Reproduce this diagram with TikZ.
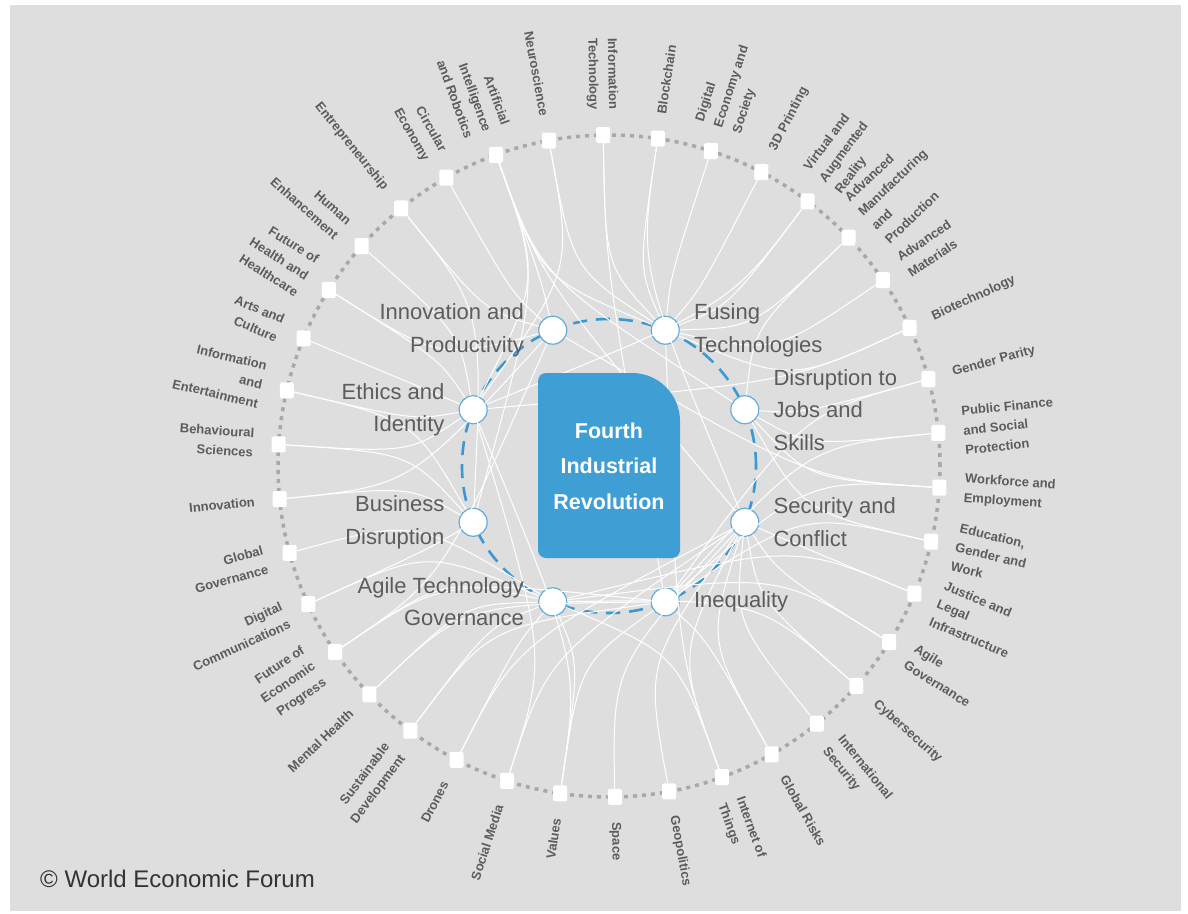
\documentclass[tikz,border=0pt]{standalone}
\usepackage{fontspec}
\setmainfont{Liberation Sans}
\usetikzlibrary{positioning}

\definecolor{bggrey}{HTML}{DEDEDE}
\definecolor{wefblue}{HTML}{3F9FD5}
\definecolor{ringblue}{HTML}{3A98D2}
\definecolor{lblgrey}{HTML}{5C5C5C}
\definecolor{dotgrey}{HTML}{A8A8A8}

\tikzset{
  topic/.style={fill=white, inner sep=0pt, minimum width=14pt, minimum height=16pt, rounded corners=1.5pt},
  topiclbl/.style={text=lblgrey, font=\bfseries\fontsize{13}{19.5}\selectfont, inner sep=0pt},
  issue/.style={circle, fill=white, draw=ringblue!80, line width=1.2pt, minimum size=28pt, inner sep=0pt},
  issuelbl/.style={text=lblgrey, font=\fontsize{22}{32.5}\selectfont, inner sep=0pt},
  link/.style={white, line width=1pt},
}

\begin{document}
\begin{tikzpicture}[x=1pt,y=1pt]
  \useasboundingbox (-609,-447) rectangle (579,466);
  \fill[white] (-609,-447) rectangle (579,466);
  \fill[bggrey] (-599,-445) rectangle (572,461);

  % rings
  \draw[dotgrey, line width=3.5pt, dash pattern=on 4pt off 5pt] (0,0) circle (331pt);
  \draw[ringblue, line width=2.6pt, dash pattern=on 14pt off 9pt] (0,0) circle (147pt);

  % topics round the ring
  \foreach \k in {1,...,38} {
    \pgfmathsetmacro\ang{91-(\k-1)*360/38}
    \node[topic] (o\k) at (\ang:331) {};
  }

  \foreach \k/\txt in {2/{Blockchain}, 3/{Digital\\Economy and\\Society}, 4/{3D Printing},
      5/{Virtual and\\Augmented\\Reality}, 6/{Advanced\\Manufacturing\\and\\Production},
      7/{Advanced\\Materials}, 8/{Biotechnology}, 9/{Gender Parity},
      10/{Public Finance\\and Social\\Protection}, 11/{Workforce and\\Employment},
      12/{Education,\\Gender and\\Work}, 13/{Justice and\\Legal\\Infrastructure},
      14/{Agile\\Governance}, 15/{Cybersecurity}, 16/{International\\Security},
      17/{Global Risks}, 18/{Internet of\\Things}, 19/{Geopolitics}, 20/{Space}} {
    \pgfmathsetmacro\ang{91-(\k-1)*360/38}
    \node[topiclbl, anchor=west, align=left, rotate=\ang] (l\k) at (\ang:356) {\txt};
  }

  \foreach \k/\txt in {21/{Values}, 22/{Social Media}, 23/{Drones},
      24/{Sustainable\\Development}, 25/{Mental Health}, 26/{Future of\\Economic\\Progress},
      27/{Digital\\Communications}, 28/{Global\\Governance}, 29/{Innovation},
      30/{Behavioural\\Sciences}, 31/{Information\\and\\Entertainment}, 32/{Arts and\\Culture},
      33/{Future of\\Health and\\Healthcare}, 34/{Human\\Enhancement}, 35/{Entrepreneurship},
      36/{Circular\\Economy}, 37/{Artificial\\Intelligence\\and Robotics}, 38/{Neuroscience},
      1/{Information\\Technology}} {
    \pgfmathsetmacro\ang{91-(\k-1)*360/38}
    \pgfmathsetmacro\rot{\ang-180}
    \node[topiclbl, anchor=east, align=right, rotate=\rot] (l\k) at (\ang:356) {\txt};
  }

  % key issues
  \node[issue] (ip) at (112.5:147) {};
  \node[issue] (ft) at (67.5:147) {};
  \node[issue] (dj) at (22.5:147) {};
  \node[issue] (sc) at (-22.5:147) {};
  \node[issue] (iq) at (-67.5:147) {};
  \node[issue] (at) at (-112.5:147) {};
  \node[issue] (bd) at (-157.5:147) {};
  \node[issue] (ei) at (157.5:147) {};

  % links
  \foreach \k/\t in {1/ft, 1/iq, 2/ft, 2/sc, 3/ft, 4/ft, 5/ft, 5/ei, 6/ft, 6/dj, 7/ft,
      8/ft, 8/ei, 9/dj, 9/iq, 10/dj, 10/iq, 11/dj, 11/iq, 11/ip, 12/dj, 12/iq,
      13/sc, 13/at, 14/sc, 14/at, 15/sc, 15/at, 16/sc, 17/sc, 17/iq, 18/sc, 18/at, 18/ft,
      19/sc, 20/sc, 21/at, 21/iq, 21/ei, 22/sc, 22/ei, 23/sc, 23/at, 24/iq, 24/at,
      25/iq, 25/at, 26/at, 26/iq, 26/ip, 27/at, 27/bd, 28/at, 29/ip, 29/bd,
      30/ei, 30/bd, 31/ei, 31/bd, 32/ei, 33/ei, 33/ip, 34/ei, 35/ip, 35/bd, 36/ip,
      37/ft, 37/ip, 37/dj, 37/bd, 37/sc, 37/ei, 38/ft, 38/ei} {
    \pgfmathsetmacro\ang{91-(\k-1)*360/38}
    \draw[link] (o\k) .. controls (\ang:200) .. (\t);
  }

  % centre
  \fill[wefblue] (-63,-92) -- (63,-92) arc[start angle=-90, end angle=0, radius=8pt]
    -- (71,45) arc[start angle=0, end angle=90, radius=48pt]
    -- (-63,93) arc[start angle=90, end angle=180, radius=8pt]
    -- (-71,-84) arc[start angle=180, end angle=270, radius=8pt] -- cycle;
  \node[text=white, font=\bfseries\fontsize{21.5}{35.5}\selectfont, align=center] (fir) at (0,0)
    {Fourth\\Industrial\\Revolution};

  \node[issuelbl, left=14pt of ip, align=right] (iplbl) {Innovation and\\Productivity};
  \node[issuelbl, right=14pt of ft, align=left] (ftlbl) {Fusing\\Technologies};
  \node[issuelbl, right=14pt of dj, align=left] (djlbl) {Disruption to\\Jobs and\\Skills};
  \node[issuelbl, right=14pt of sc, align=left] (sclbl) {Security and\\Conflict};
  \node[issuelbl, right=14pt of iq, align=left] (iqlbl) {Inequality};
  \node[issuelbl, left=14pt of at, align=right] (atlbl) {Agile Technology\\Governance};
  \node[issuelbl, left=14pt of bd, align=right] (bdlbl) {Business\\Disruption};
  \node[issuelbl, left=14pt of ei, align=right] (eilbl) {Ethics and\\Identity};

  \node[anchor=west, inner sep=0pt, text=black!80, font=\fontsize{24}{28}\selectfont] (wef) at (-569,-413)
    {\textcopyright{} World Economic Forum};
\end{tikzpicture}
\end{document}
